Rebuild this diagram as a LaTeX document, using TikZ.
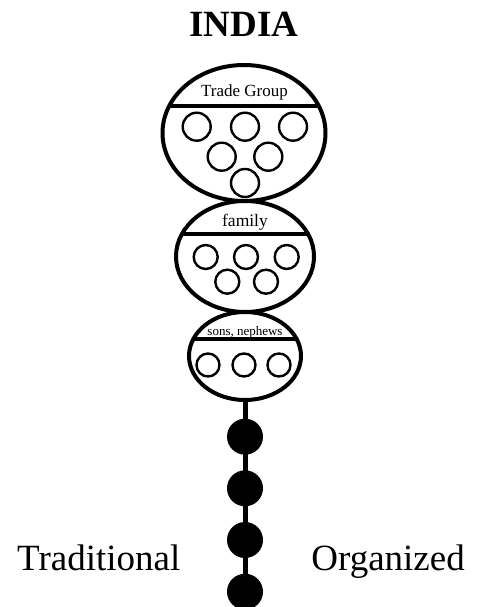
\documentclass[tikz,border=0pt]{standalone}
\usepackage{fontspec}
\setmainfont{Liberation Serif}
\usetikzlibrary{shapes.geometric}
\tikzset{
  group/.style={draw, line width=4pt, ellipse, inner sep=0pt},
  member/.style={draw, line width=2.4pt, circle, inner sep=0pt, minimum size=#1},
  bead/.style={fill=black, circle, inner sep=0pt, minimum size=36pt},
  divider/.style={line width=4pt},
  chain/.style={line width=5pt},
  lbl/.style={inner sep=0pt, anchor=base}
}
\begin{document}
\begin{tikzpicture}[x=1pt,y=-1pt]
\useasboundingbox (0,0) rectangle (476,607);
% title
\node[lbl, font=\fontsize{37}{40}\selectfont\bfseries] (title) at (244,36.5) {INDIA};
% chain line first (behind)
\coordinate (chainend) at (245,620);
% ellipses
\node[group, minimum width=163pt, minimum height=136pt] (trade) at (244,133) {};
\node[group, minimum width=138pt, minimum height=111pt] (family) at (245,256.5) {};
\node[group, minimum width=112pt, minimum height=88pt] (sons) at (245,356) {};
\draw[chain] (sons.south) -- (chainend);
% dividers
\begin{scope}
  \clip (244,133) ellipse [x radius=81.5pt, y radius=68pt];
  \draw[divider] (150,105.7) -- (340,105.7);
\end{scope}
\begin{scope}
  \clip (245,256.5) ellipse [x radius=69pt, y radius=55.5pt];
  \draw[divider] (150,234) -- (340,234);
\end{scope}
\begin{scope}
  \clip (245,356) ellipse [x radius=56pt, y radius=44pt];
  \draw[divider] (150,339) -- (340,339);
\end{scope}
% labels
\node[lbl, font=\fontsize{17}{19}\selectfont] (tgl) at (244.5,96) {Trade Group};
\node[lbl, font=\fontsize{17.5}{19}\selectfont] (fl) at (245,226.7) {family};
\node[lbl, font=\fontsize{13}{15}\selectfont] (sl) at (245,335) {sons, nephews};
% trade members
\node[member=28pt] (t1) at (196.7,126.7) {};
\node[member=28pt] (t2) at (245,126.7) {};
\node[member=28pt] (t3) at (293,126.7) {};
\node[member=28pt] (t4) at (221.7,156.7) {};
\node[member=28pt] (t5) at (268.3,156.7) {};
\node[member=28pt] (t6) at (245,183) {};
% family members
\node[member=24pt] (f1) at (205.7,257) {};
\node[member=24pt] (f2) at (246,257) {};
\node[member=24pt] (f3) at (286.7,257) {};
\node[member=24pt] (f4) at (227.3,281.7) {};
\node[member=24pt] (f5) at (266,281.7) {};
% sons members
\node[member=23pt] (s1) at (208,365) {};
\node[member=23pt] (s2) at (244,365) {};
\node[member=23pt] (s3) at (279,365) {};
% beads
\node[bead] (b1) at (245,436.7) {};
\node[bead] (b2) at (245,488.3) {};
\node[bead] (b3) at (245,540) {};
\node[bead] (b4) at (245,591.7) {};
% side labels
\node[lbl, font=\fontsize{37}{40}\selectfont, anchor=base west] (trad) at (17,570) {Traditional};
\node[lbl, font=\fontsize{37}{40}\selectfont, anchor=base east] (org) at (465,570) {Organized};
\end{tikzpicture}
\end{document}
